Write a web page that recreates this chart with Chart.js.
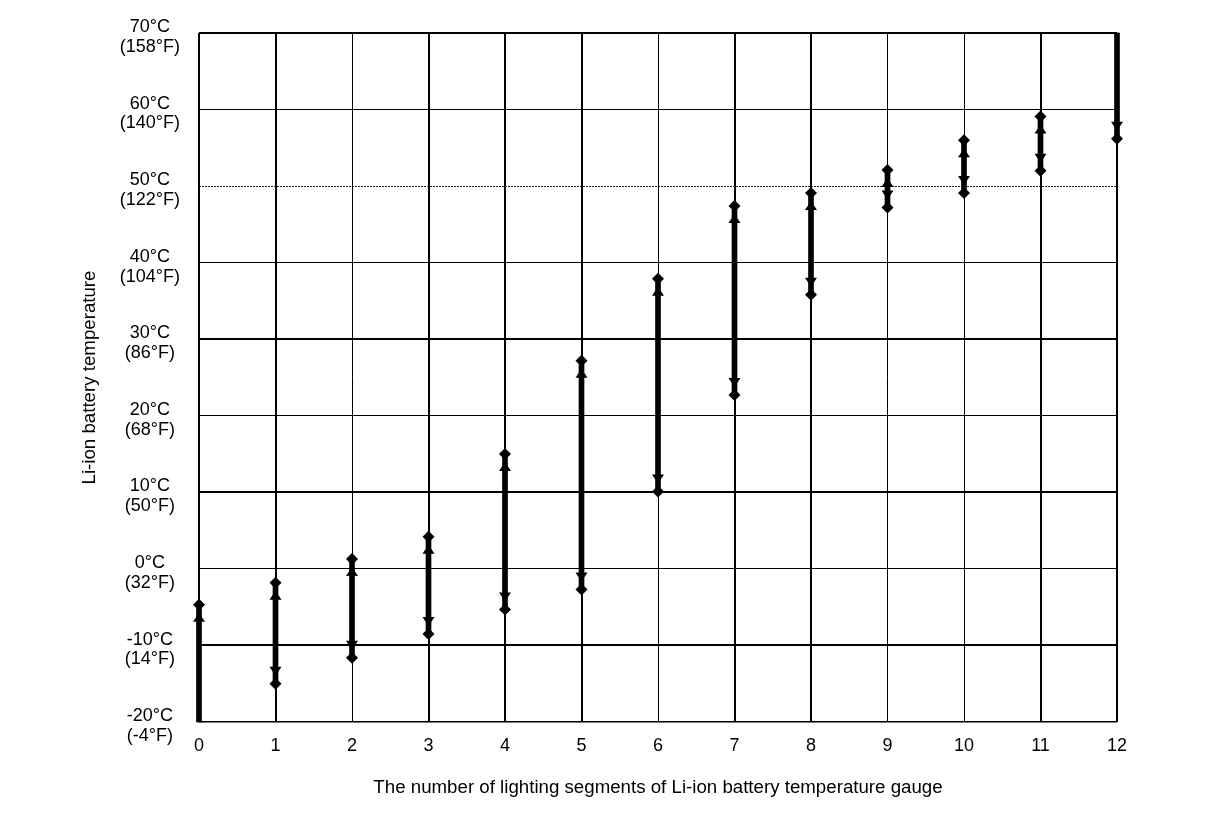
<!DOCTYPE html>
<html>
<head>
<meta charset="utf-8">
<script src="https://cdn.jsdelivr.net/npm/chart.js@4.4.1/dist/chart.umd.min.js"></script>
<style>
html,body{margin:0;padding:0;background:#fff;}
#wrap{width:1216px;height:822px;}
</style>
</head>
<body>
<div id="wrap"><canvas id="c" width="1216" height="822"></canvas></div>
<script>
// ---- data ----
const segments = ['0','1','2','3','4','5','6','7','8','9','10','11','12'];
const lowTemp  = [-20, -15, -11.6, -8.5, -5.3, -2.7, 10.1, 22.7, 35.8, 47.2, 49.1, 52.0, 56.2];
const highTemp = [-4.7, -1.8, 1.3, 4.2, 15.0, 27.2, 37.9, 47.4, 49.1, 52.1, 56.0, 59.1, 70];
const tickCelsius = [-20, -10, 0, 10, 20, 30, 40, 50, 60, 70];
const tickLabelsC = ['-20°C','-10°C','0°C','10°C','20°C','30°C','40°C','50°C','60°C','70°C'];
const tickLabelsF = ['(-4°F)','(14°F)','(32°F)','(50°F)','(68°F)','(86°F)','(104°F)','(122°F)','(140°F)','(158°F)'];
const xTitle = 'The number of lighting segments of Li-ion battery temperature gauge';
const yTitle = 'Li-ion battery temperature';

// ---- styles ----
const yMin = -20, yMax = 70;
const xGridWidths = [2,2,1,2,2,2,1,2,2,1,1,2,2];
const yGridWidths = [1.5,2,1,2,1,2,1,1,1,2];
const FONT = '"Liberation Sans", Arial, Helvetica, sans-serif';

const lowMarks  = lowTemp.map(v => v > yMin ? v : null);
const highMarks = highTemp.map(v => v < yMax ? v : null);

const arrowPlugin = {
  id: 'arrows',
  afterDatasetsDraw(chart) {
    const {ctx, scales: {x, y}} = chart;
    ctx.save();
    ctx.fillStyle = '#000';
    segments.forEach((s, i) => {
      const px = x.getPixelForValue(i);
      if (highTemp[i] < yMax) {
        const py = y.getPixelForValue(highTemp[i]);
        ctx.beginPath();
        ctx.moveTo(px, py + 8);
        ctx.lineTo(px + 6, py + 17);
        ctx.lineTo(px - 6, py + 17);
        ctx.closePath();
        ctx.fill();
      }
      if (lowTemp[i] > yMin) {
        const py = y.getPixelForValue(lowTemp[i]);
        ctx.beginPath();
        ctx.moveTo(px, py - 8);
        ctx.lineTo(px + 6, py - 17);
        ctx.lineTo(px - 6, py - 17);
        ctx.closePath();
        ctx.fill();
      }
    });
    ctx.restore();
  }
};

const bgPlugin = {
  id: 'bg',
  beforeDraw(chart) {
    const ctx = chart.ctx;
    ctx.save();
    ctx.fillStyle = '#fff';
    ctx.fillRect(0, 0, chart.width, chart.height);
    ctx.restore();
  }
};

new Chart(document.getElementById('c'), {
  type: 'bar',
  data: {
    labels: segments,
    datasets: [
      {
        type: 'bar',
        data: segments.map((s, i) => [lowTemp[i], highTemp[i]]),
        backgroundColor: '#000',
        borderWidth: 0,
        barThickness: 5,
        clip: false,
        order: 2
      },
      {
        type: 'line',
        data: lowMarks,
        showLine: false,
        pointStyle: 'rectRot',
        pointRadius: 6,
        pointBackgroundColor: '#000',
        pointBorderWidth: 0,
        clip: false,
        order: 1
      },
      {
        type: 'line',
        data: highMarks,
        showLine: false,
        pointStyle: 'rectRot',
        pointRadius: 6,
        pointBackgroundColor: '#000',
        pointBorderWidth: 0,
        clip: false,
        order: 1
      }
    ]
  },
  options: {
    responsive: false,
    animation: false,
    devicePixelRatio: 1,
    layout: { padding: { top: 33, right: 99, bottom: 0, left: 0 } },
    plugins: { legend: { display: false }, tooltip: { enabled: false } },
    scales: {
      x: {
        type: 'category',
        offset: false,
        afterFit(scale) {
          scale.height = 100;
          scale.paddingLeft = 0; scale.paddingRight = 0;
        },
        grid: {
          offset: false,
          drawTicks: false,
          color: '#000',
          lineWidth: ctx => xGridWidths[ctx.index] ?? 1
        },
        border: { display: false },
        ticks: {
          color: '#000',
          font: { family: FONT, size: 18 },
          padding: 13,
          maxRotation: 0,
          autoSkip: false
        },
        title: {
          display: true,
          text: xTitle,
          color: '#000',
          font: { family: FONT, size: 18.7 },
          padding: { top: 0, bottom: 23 }
        }
      },
      y: {
        type: 'linear',
        min: yMin,
        max: yMax,
        afterFit(scale) {
          scale.width = 199;
          scale.paddingTop = 0; scale.paddingBottom = 0;
        },
        afterBuildTicks(scale) { scale.ticks = tickCelsius.map(v => ({ value: v })); },
        grid: {
          drawTicks: false,
          color: ctx => (ctx.tick && ctx.tick.value === 50) ? '#222' : '#000',
          lineWidth: ctx => yGridWidths[ctx.index] ?? 1
        },
        border: {
          display: false,
          dash: ctx => (ctx.tick && ctx.tick.value === 50) ? [2, 1] : []
        },
        ticks: {
          color: '#000',
          font: { family: FONT, size: 18, lineHeight: 1.1 },
          padding: 19,
          crossAlign: 'center',
          labelOffset: 4,
          callback: (value) => {
            const k = tickCelsius.indexOf(value);
            return [tickLabelsC[k], tickLabelsF[k]];
          }
        },
        title: {
          display: true,
          text: yTitle,
          color: '#000',
          font: { family: FONT, size: 18.7 },
          padding: { top: 79, bottom: 0 }
        }
      }
    }
  },
  plugins: [bgPlugin, arrowPlugin]
});
</script>
</body>
</html>
